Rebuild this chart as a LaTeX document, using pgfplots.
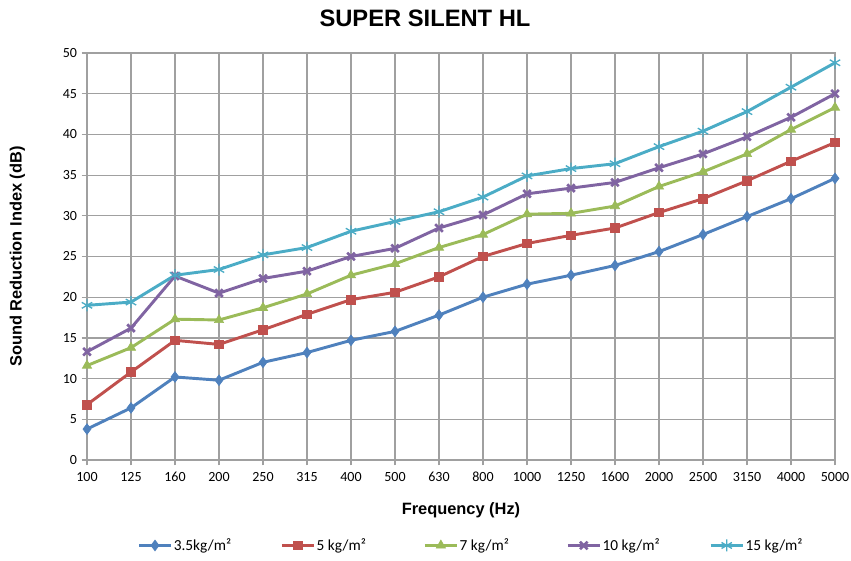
\documentclass[border=0pt]{standalone}
\usepackage{pgfplots}
\pgfplotsset{compat=1.18}
\usepackage{fontspec}
\setmainfont{Carlito}
\newfontfamily\titlefont{Liberation Sans}
\definecolor{c1}{HTML}{4F81BD}
\definecolor{c2}{HTML}{C0504D}
\definecolor{c3}{HTML}{9BBB59}
\definecolor{c4}{HTML}{8064A2}
\definecolor{c5}{HTML}{4BACC6}
\definecolor{gridc}{RGB}{160,160,160}
\begin{document}
\begin{tikzpicture}[x=1pt,y=1pt]
\useasboundingbox (0,0) rectangle (638.25,420.75);
\node[font=\titlefont\bfseries\fontsize{17.8}{20}\selectfont] at (318.75,407) {SUPER\ SILENT\ HL};
\begin{axis}[
  at={(65.25pt,75.75pt)}, anchor=south west,
  scale only axis, width=561pt, height=305.25pt,
  xmin=0, xmax=17, ymin=0, ymax=50,
  xtick={0,...,17},
  xticklabels={100,125,160,200,250,315,400,500,630,800,1000,1250,1600,2000,2500,3150,4000,5000},
  ytick={0,5,...,50},
  /pgf/number format/assume math mode=true,
  ticklabel style={font=\fontsize{10.5}{12}\selectfont},
  xticklabel style={text height=1.6ex, text depth=0.3ex, yshift=-1pt},
  grid=major,
  major grid style={gridc, line width=0.9pt},
  axis line style={gridc, line width=0.9pt},
  tick style={gridc, line width=0.9pt},
  tick align=outside, major tick length=4pt,
  xtick pos=bottom, ytick pos=left,
  xlabel={Frequency (Hz)},
  ylabel={Sound Reduction Index (dB)},
  label style={font=\titlefont\bfseries\fontsize{12.3}{14}\selectfont},
  xlabel style={at={(axis description cs:0.5,-0.123)}, anchor=center},
  ylabel style={at={(axis description cs:-0.093,0.5)}, anchor=center},
  legend style={at={(0.515,-0.21)}, anchor=center, draw=none, legend columns=5,
    font=\fontsize{11.5}{13}\selectfont, nodes={inner sep=1pt}},
  legend image code/.code={\draw[mark repeat=2,mark phase=2] plot coordinates {(0pt,0pt) (12pt,0pt) (24pt,0pt)};},
  every axis plot/.append style={line width=2.2pt},
  clip=false,
]
\addplot[c1, mark=diamond*, mark size=4pt, mark options={solid, line width=0.5pt}] coordinates {
(0,3.8)(1,6.4)(2,10.2)(3,9.8)(4,12.0)(5,13.2)(6,14.7)(7,15.8)(8,17.8)(9,20.0)(10,21.6)(11,22.7)(12,23.9)(13,25.6)(14,27.7)(15,29.9)(16,32.1)(17,34.6)};
\addlegendentry{\makebox[79pt][l]{3.5kg/m²}}
\addplot[c2, mark=square*, mark size=3.2pt, mark options={solid, line width=0.5pt}] coordinates {
(0,6.8)(1,10.8)(2,14.7)(3,14.2)(4,16.0)(5,17.9)(6,19.7)(7,20.6)(8,22.5)(9,25.0)(10,26.6)(11,27.6)(12,28.5)(13,30.4)(14,32.1)(15,34.3)(16,36.7)(17,39.0)};
\addlegendentry{\makebox[79pt][l]{5 kg/m²}}
\addplot[c3, mark=triangle*, mark size=4pt, mark options={solid, line width=0.5pt}] coordinates {
(0,11.6)(1,13.8)(2,17.3)(3,17.2)(4,18.7)(5,20.4)(6,22.7)(7,24.1)(8,26.1)(9,27.7)(10,30.2)(11,30.3)(12,31.2)(13,33.6)(14,35.4)(15,37.6)(16,40.6)(17,43.3)};
\addlegendentry{\makebox[79pt][l]{7 kg/m²}}
\addplot[c4, mark=x, mark size=4pt, mark options={solid, line width=2pt}] coordinates {
(0,13.3)(1,16.2)(2,22.6)(3,20.5)(4,22.3)(5,23.2)(6,25.0)(7,26.0)(8,28.5)(9,30.1)(10,32.7)(11,33.4)(12,34.1)(13,35.9)(14,37.6)(15,39.7)(16,42.1)(17,45.0)};
\addlegendentry{\makebox[79pt][l]{10 kg/m²}}
\addplot[c5, mark=asterisk, mark size=4.5pt, mark options={solid, line width=1pt}] coordinates {
(0,19.0)(1,19.4)(2,22.7)(3,23.4)(4,25.2)(5,26.1)(6,28.1)(7,29.3)(8,30.5)(9,32.3)(10,34.9)(11,35.8)(12,36.4)(13,38.5)(14,40.4)(15,42.8)(16,45.8)(17,48.8)};
\addlegendentry{\makebox[45pt][l]{15 kg/m²}}
\end{axis}
\end{tikzpicture}
\end{document}
